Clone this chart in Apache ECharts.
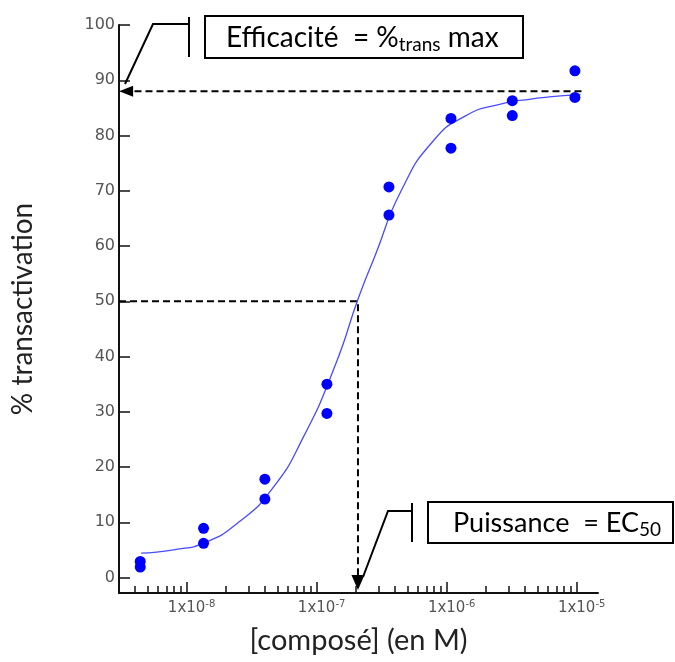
<!DOCTYPE html>
<html>
<head>
<meta charset="utf-8">
<script src="https://cdn.jsdelivr.net/npm/echarts@6/dist/echarts.min.js"></script>
<style>
html,body{margin:0;padding:0;background:#fff;}
#chart{width:675px;height:662px;}
</style>
</head>
<body>
<div id="chart"></div>
<script>
// ---- data ----
const pointConc = [4.4e-9, 4.4e-9, 1.35e-8, 1.35e-8, 4.0e-8, 4.0e-8, 1.2e-7, 1.2e-7, 3.6e-7, 3.6e-7, 1.08e-6, 1.08e-6, 3.2e-6, 3.2e-6, 9.7e-6, 9.7e-6];
const pointResp = [2.9, 1.9, 8.9, 6.2, 17.8, 14.2, 35.0, 29.7, 70.7, 65.6, 83.1, 77.7, 86.3, 83.6, 91.7, 86.9];
const fitConc = [4.47e-9, 7.94e-9, 1.41e-8, 2.51e-8, 4.47e-8, 7.94e-8, 1.41e-7, 2.09e-7, 2.82e-7, 4.47e-7, 7.94e-7, 1.41e-6, 2.51e-6, 4.47e-6, 7.94e-6, 1.07e-5];
const fitResp = [4.4, 5.0, 6.4, 10.0, 15.8, 25.5, 38.8, 50.5, 58.3, 70.0, 79.1, 83.6, 85.6, 86.6, 87.2, 87.4];
const xMajorTicks = [1e-8, 1e-7, 1e-6, 1e-5];
const xMinorTicks = [4e-9,5e-9,6e-9,7e-9,8e-9,9e-9,
  2e-8,3e-8,4e-8,5e-8,6e-8,7e-8,8e-8,9e-8,
  2e-7,3e-7,4e-7,5e-7,6e-7,7e-7,8e-7,9e-7,
  2e-6,3e-6,4e-6,5e-6,6e-6,7e-6,8e-6,9e-6];
const yTicks = [0,10,20,30,40,50,60,70,80,90,100];
const xRange = [3.02e-9, 1.46e-5];
const yRange = [-2.8, 100];
const emax = 88;
const ec50 = 2.08e-7;
const halfResp = 50;
const emaxLineEnd = 1.09e-5;

const L = Math.log10;
const xMin = L(xRange[0]), xMax = L(xRange[1]);

const chart = echarts.init(document.getElementById('chart'), null, {renderer:'canvas'});

const titleFont = 'Lato, "Open Sans", sans-serif';
const tickFont = '"DejaVu Sans", sans-serif';

const option = {
  animation: false,
  backgroundColor: '#fff',
  grid: {left: 119, right: 77, top: 25, bottom: 69, containLabel: false, outerBoundsMode: 'none'},
  xAxis: [
    {
      type: 'value', min: xMin, max: xMax, position: 'bottom',
      name: '[composé] (en M)', nameLocation: 'middle', nameGap: 33,
      nameTextStyle: {fontFamily: titleFont, fontSize: 29, color: '#222'},
      axisLine: {onZero: false, lineStyle: {color: '#111', width: 2}},
      axisTick: {inside: true, length: 11, customValues: xMajorTicks.map(L), lineStyle: {color: '#111', width: 1.5}},
      axisLabel: {
        customValues: xMajorTicks.map(L), margin: 6,
        formatter: v => '{a|1x10}{s|' + Math.round(v) + '}',
        padding: [0,0,0,10],
        rich: {
          a: {fontFamily: tickFont, fontSize: 15, color: '#555', lineHeight: 18},
          s: {fontFamily: tickFont, fontSize: 10, color: '#555', lineHeight: 10, verticalAlign: 'top'}
        }
      },
      splitLine: {show: false}
    },
    {
      type: 'value', min: xMin, max: xMax, position: 'bottom',
      axisLine: {show: false, onZero: false},
      axisTick: {inside: true, length: 7, customValues: xMinorTicks.map(L), lineStyle: {color: '#111', width: 1.5}},
      axisLabel: {show: false},
      splitLine: {show: false}
    }
  ],
  yAxis: {
    type: 'value', min: yRange[0], max: yRange[1],
    name: '% transactivation', nameLocation: 'middle', nameGap: 82,
    nameTextStyle: {fontFamily: titleFont, fontSize: 28, color: '#222'},
    axisLine: {onZero: false, lineStyle: {color: '#111', width: 2}},
    axisTick: {inside: true, length: 11, customValues: yTicks, lineStyle: {color: '#111', width: 1.5}},
    axisLabel: {customValues: yTicks, margin: 4, fontFamily: tickFont, fontSize: 16, color: '#555'},
    splitLine: {show: false}
  },
  series: [
    {
      type: 'line', xAxisIndex: 0, smooth: 0.55, symbol: 'none', z: 3,
      lineStyle: {color: '#4a4aff', width: 1.3},
      data: fitConc.map((c, i) => [L(c), fitResp[i]])
    },
    {
      type: 'scatter', xAxisIndex: 0, symbol: 'circle', symbolSize: 11, z: 4,
      itemStyle: {color: '#0000ff', opacity: 1},
      data: pointConc.map((c, i) => [L(c), pointResp[i]])
    },
    {
      type: 'line', xAxisIndex: 0, symbol: 'none', z: 2,
      lineStyle: {color: '#000', width: 2, type: [7, 4]},
      data: [[xMin, halfResp], [L(ec50), halfResp], [L(ec50), -1.6]]
    },
    {
      type: 'line', xAxisIndex: 0, symbol: 'none', z: 2,
      lineStyle: {color: '#000', width: 2, type: [7, 4]},
      data: [[L(emaxLineEnd), emax], [xMin + 0.07, emax]]
    },
    {
      type: 'scatter', xAxisIndex: 0, z: 5, symbol: 'triangle',
      itemStyle: {color: '#000', opacity: 1},
      data: [
        {value: [L(ec50), -0.9], symbolRotate: 180, symbolSize: [13, 15]},
        {value: [xMin + 0.055, emax], symbolRotate: 90, symbolSize: [11, 14]}
      ]
    }
  ],
  graphic: [
    {type: 'rect', shape: {x: 205, y: 16, width: 318, height: 42}, style: {fill: '#fff', stroke: '#000', lineWidth: 2}, z: 10},
    {type: 'text', x: 226, y: 38, z: 11, style: {
      text: '{a|Efficacité  = %}{b|trans}{a| max}', verticalAlign: 'middle',
      rich: {
        a: {fontFamily: titleFont, fontSize: 28, color: '#000', lineHeight: 32},
        b: {fontFamily: titleFont, fontSize: 19, color: '#000', lineHeight: 19, verticalAlign: 'bottom'}
      }
    }},
    {type: 'polyline', shape: {points: [[189, 17], [189, 57]]}, style: {stroke: '#000', lineWidth: 2, fill: null}, z: 10},
    {type: 'polyline', shape: {points: [[189, 24], [153, 24], [125, 84]]}, style: {stroke: '#000', lineWidth: 2, fill: null}, z: 10},
    {type: 'rect', shape: {x: 428, y: 502, width: 245, height: 41}, style: {fill: '#fff', stroke: '#000', lineWidth: 2}, z: 10},
    {type: 'text', x: 453, y: 523, z: 11, style: {
      text: '{a|Puissance  = EC}{b|50}', verticalAlign: 'middle',
      rich: {
        a: {fontFamily: titleFont, fontSize: 27, color: '#000', lineHeight: 32},
        b: {fontFamily: titleFont, fontSize: 19, color: '#000', lineHeight: 19, verticalAlign: 'bottom'}
      }
    }},
    {type: 'polyline', shape: {points: [[412, 503], [412, 542]]}, style: {stroke: '#000', lineWidth: 2, fill: null}, z: 10},
    {type: 'polyline', shape: {points: [[412, 511], [388, 511], [363, 577]]}, style: {stroke: '#000', lineWidth: 2, fill: null}, z: 10}
  ]
};
chart.setOption(option);
</script>
</body>
</html>
